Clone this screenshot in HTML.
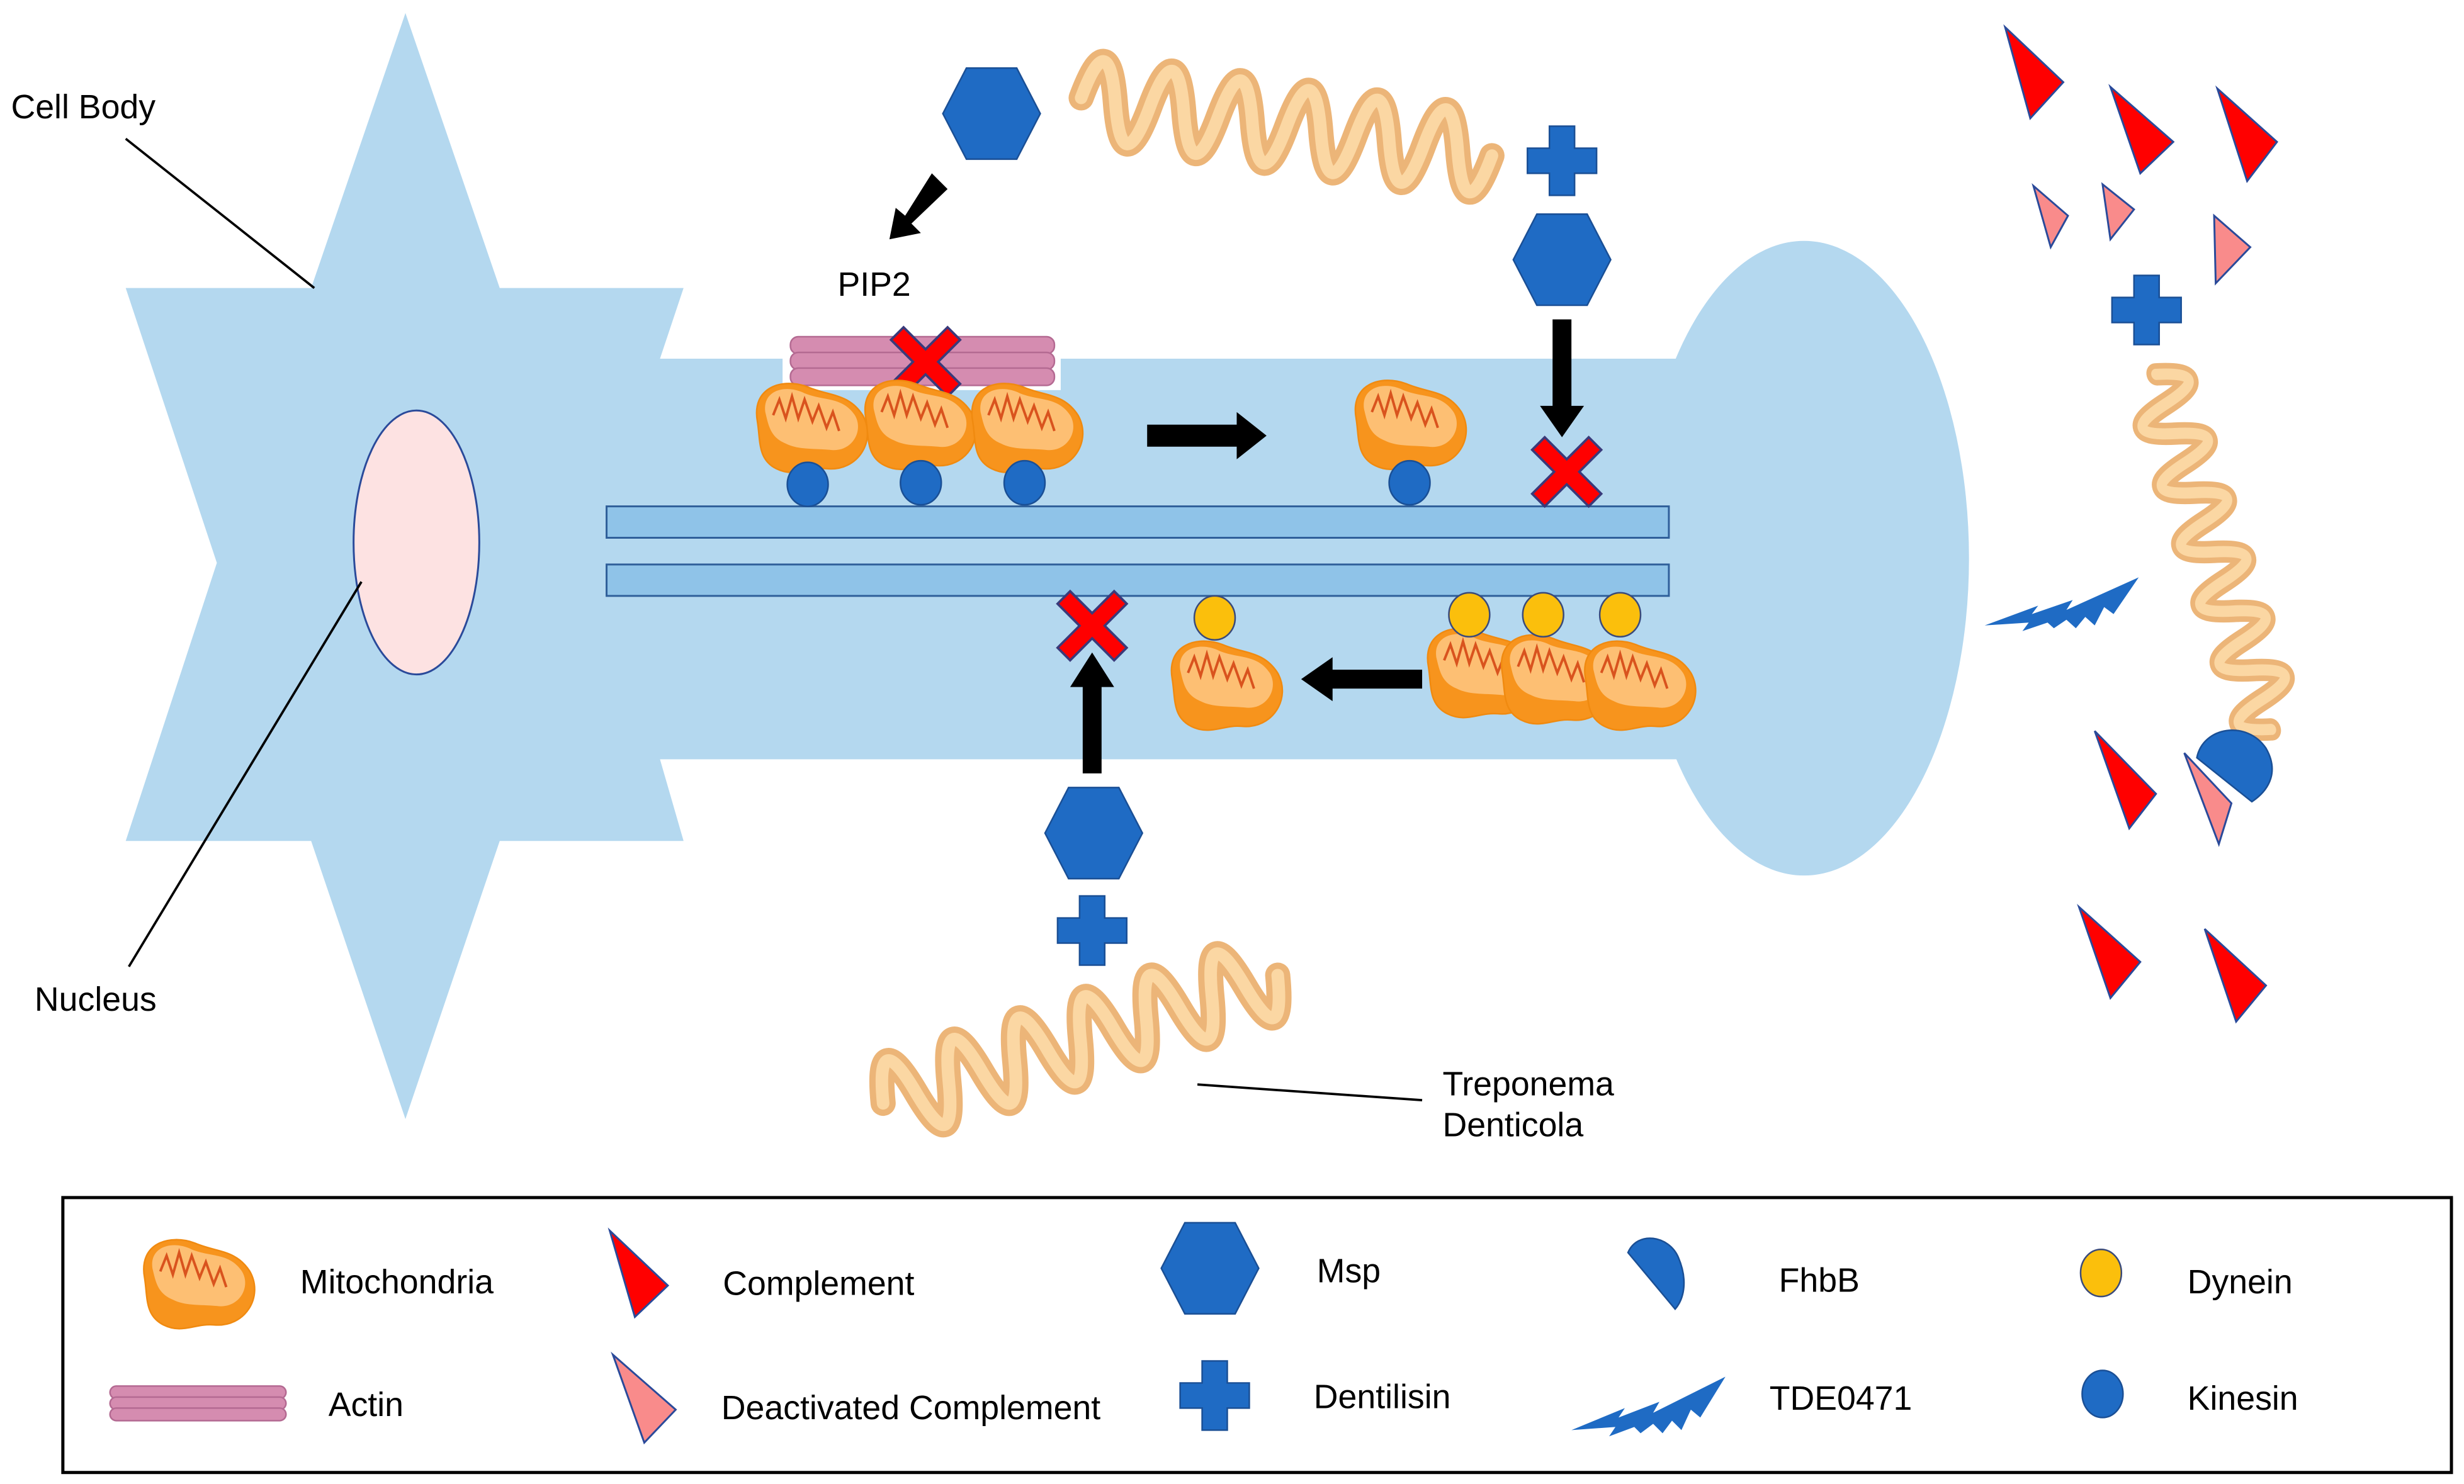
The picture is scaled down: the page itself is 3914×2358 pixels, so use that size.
<!DOCTYPE html>
<html><head><meta charset="utf-8"><style>
html,body{margin:0;padding:0;background:#fff}
svg{display:block}
text{font-family:"Liberation Sans",Arial,sans-serif;font-size:21.5px;fill:#000}
</style></head><body>
<svg width="3914" height="2358" viewBox="0 0 1568 944" xmlns="http://www.w3.org/2000/svg">
<defs>
<g id="mito">
<path d="M-34,-4 C-38,-26 -18,-32 -2,-26 C12,-20 24,-22 33,-8 C42,8 30,28 10,26 C-2,25 -10,32 -22,26 C-34,20 -32,8 -34,-4Z" fill="#f7941d" stroke="#f08a10" stroke-width="1"/>
<path d="M-29,-10 C-31,-24 -16,-28 -4,-22 C8,-17 20,-20 28,-8 C34,2 26,16 12,14 C0,13 -8,14 -16,10 C-26,6 -27,-2 -29,-10Z" fill="#fdbf73"/>
<path d="M-24,-8 l4,-10 l4,12 l4,-14 l4,14 l4,-12 l5,14 l4,-10 l5,14 l4,-10 l4,12" fill="none" stroke="#d9531e" stroke-width="1.6"/>
</g>
<g id="hex"><polygon points="-31,0 -16,-29 16,-29 31,0 16,29 -16,29" fill="#1f6bc4" stroke="#1a4f95" stroke-width="1"/></g>
<g id="cross"><path d="M-8,-22 h16 v14 h14 v16 h-14 v14 h-16 v-14 h-14 v-16 h14z" fill="#1f6bc4" stroke="#1a4f95" stroke-width="1"/></g>
<g id="xx"><path d="M-22,-14 l8,-8 l14,14 l14,-14 l8,8 l-14,14 l14,14 l-8,8 l-14,-14 l-14,14 l-8,-8 l14,-14z" fill="#f00" stroke="#3a3a7a" stroke-width="1.5"/></g>
<g id="light"><polygon points="0,22 34,8 30,14 56,4 52,11 98,-12 82,14 76,9 70,22 64,16 58,24 52,18 44,24 40,20 24,26 28,20" fill="#1f6bc4"/></g>
<g id="wave"><path d="M0,0 q11,-50 22,0 t22,0 t22,0 t22,0 t22,0 t22,0 t22,0 t22,0 t22,0 t22,0 t22,0 t22,0" fill="none" stroke="#e9a860" stroke-width="16" stroke-linecap="round" opacity="0.85"/>
<path d="M0,0 q11,-50 22,0 t22,0 t22,0 t22,0 t22,0 t22,0 t22,0 t22,0 t22,0 t22,0 t22,0 t22,0" fill="none" stroke="#fbd7a3" stroke-width="8" stroke-linecap="round"/></g>
</defs>

<polygon points="258,8 318,183 435,183 420,228 420,483 435,535 318,535 258,712 198,535 80,535 138,358 80,183 198,183" fill="#b4d8ef"/>
<rect x="400" y="228" width="760" height="255" fill="#b4d8ef"/>
<ellipse cx="1148" cy="355" rx="105" ry="202" fill="#b4d8ef"/>
<ellipse cx="265" cy="345" rx="40" ry="84" fill="#fde2e2" stroke="#2a4a9a" stroke-width="1.2"/>
<rect x="386" y="322" width="676" height="20" fill="#8fc3e8" stroke="#2f5f9a" stroke-width="1.2"/>
<rect x="386" y="359" width="676" height="20" fill="#8fc3e8" stroke="#2f5f9a" stroke-width="1.2"/>

<rect x="498" y="210" width="177" height="38" fill="#fff"/>
<g fill="#d58cb0" stroke="#b46a92" stroke-width="1">
<rect x="503" y="214" width="168" height="11" rx="5"/>
<rect x="503" y="224" width="168" height="11" rx="5"/>
<rect x="503" y="234" width="168" height="11" rx="5"/>
</g>
<use href="#xx" x="589" y="230"/>

<use href="#mito" x="516" y="272"/><use href="#mito" x="585" y="270"/><use href="#mito" x="653" y="272"/><use href="#mito" x="897" y="270"/>
<g fill="#1f6bc4" stroke="#1a4f95" stroke-width="1">
<ellipse cx="514" cy="308" rx="13" ry="14"/><ellipse cx="586" cy="307" rx="13" ry="14"/><ellipse cx="652" cy="307" rx="13" ry="14"/><ellipse cx="897" cy="307" rx="13" ry="14"/></g>
<use href="#mito" x="780" y="436"/><use href="#mito" x="943" y="428"/><use href="#mito" x="990" y="432"/><use href="#mito" x="1043" y="436"/>
<g fill="#fbbf0c" stroke="#3a4a7a" stroke-width="1">
<ellipse cx="773" cy="393" rx="13" ry="14"/><ellipse cx="935" cy="391" rx="13" ry="14"/><ellipse cx="982" cy="391" rx="13" ry="14"/><ellipse cx="1031" cy="391" rx="13" ry="14"/></g>
<use href="#xx" x="997" y="300"/><use href="#xx" x="695" y="398"/>

<g fill="#000">
<polygon points="730,270 787,270 787,262 806,277 787,292 787,284 730,284"/>
<polygon points="905,426 848,426 848,418 828,432 848,446 848,438 905,438"/>
<polygon points="988,203 1000,203 1000,258 1008,258 994,278 980,258 988,258"/>
<polygon points="689,492 701,492 701,437 709,437 695,415 681,437 689,437"/>
<polygon points="593,110 603,120 580,142 586,148 566,152 570,132 576,137"/>
</g>

<use href="#hex" x="631" y="72"/><use href="#hex" x="994" y="165"/><use href="#hex" x="696" y="530"/>
<use href="#cross" x="994" y="102"/><use href="#cross" x="1366" y="197"/><use href="#cross" x="695" y="592"/>

<use href="#wave" transform="translate(688,62) rotate(8)"/>
<use href="#wave" transform="translate(562,702) rotate(-18)"/>
<use href="#wave" transform="translate(1372,238) rotate(72) scale(0.9,0.75)"/>

<g fill="#f00" stroke="#2a4a9a" stroke-width="1.2">
<polygon points="1276,17 1313,52 1292,75"/>
<polygon points="1343,55 1383,90 1362,110"/>
<polygon points="1411,56 1449,90 1430,115"/>
<polygon points="1333,465 1372,505 1355,527"/>
<polygon points="1323,577 1362,612 1343,635"/>
<polygon points="1403,591 1442,627 1423,650"/>
</g>
<g fill="#f98b8b" stroke="#2a4a9a" stroke-width="1.2">
<polygon points="1294,118 1316,137 1305,157"/>
<polygon points="1338,117 1358,133 1343,152"/>
<polygon points="1409,137 1432,157 1410,180"/>
<polygon points="1390,479 1420,511 1412,537"/>
</g>
<path d="M1398,482 C1402,462 1430,458 1442,476 C1450,490 1445,502 1433,510 Z" fill="#1f6bc4" stroke="#1a4f95" stroke-width="1"/>
<use href="#light" transform="translate(1263,378) scale(1,0.9)"/>

<text x="7" y="75">Cell Body</text>
<line x1="80" y1="88" x2="200" y2="183" stroke="#000" stroke-width="1.5"/>
<text x="22" y="643">Nucleus</text>
<line x1="82" y1="615" x2="230" y2="370" stroke="#000" stroke-width="1.5"/>
<text x="533" y="188">PIP2</text>
<text x="918" y="697">Treponema</text>
<text x="918" y="723">Denticola</text>
<line x1="762" y1="690" x2="905" y2="700" stroke="#000" stroke-width="1.5"/>

<rect x="40" y="762" width="1520" height="175" fill="none" stroke="#000" stroke-width="2"/>
<use href="#mito" x="126" y="817"/>
<g fill="#d58cb0" stroke="#b46a92" stroke-width="1">
<rect x="70" y="882" width="112" height="8" rx="4"/><rect x="70" y="889" width="112" height="8" rx="4"/><rect x="70" y="896" width="112" height="8" rx="4"/></g>
<polygon points="388,783 425,818 404,838" fill="#f00" stroke="#2a4a9a" stroke-width="1.2"/>
<polygon points="390,862 430,897 410,918" fill="#f98b8b" stroke="#2a4a9a" stroke-width="1.2"/>
<use href="#hex" x="770" y="807"/>
<use href="#cross" x="773" y="888"/>
<path d="M1036,797 C1042,783 1062,786 1068,800 C1074,814 1072,826 1066,833 Z" fill="#1f6bc4" stroke="#1a4f95" stroke-width="1"/>
<use href="#light" transform="translate(1000,888)"/>
<ellipse cx="1337" cy="810" rx="13" ry="15" fill="#fbbf0c" stroke="#3a4a7a" stroke-width="1"/>
<ellipse cx="1338" cy="887" rx="13" ry="15" fill="#1f6bc4" stroke="#1a4f95" stroke-width="1"/>
<text x="191" y="823">Mitochondria</text>
<text x="460" y="824">Complement</text>
<text x="838" y="816">Msp</text>
<text x="1132" y="822">FhbB</text>
<text x="1392" y="823">Dynein</text>
<text x="209" y="901">Actin</text>
<text x="459" y="903">Deactivated Complement</text>
<text x="836" y="896">Dentilisin</text>
<text x="1126" y="897">TDE0471</text>
<text x="1392" y="897">Kinesin</text>
</svg>
</body></html>
